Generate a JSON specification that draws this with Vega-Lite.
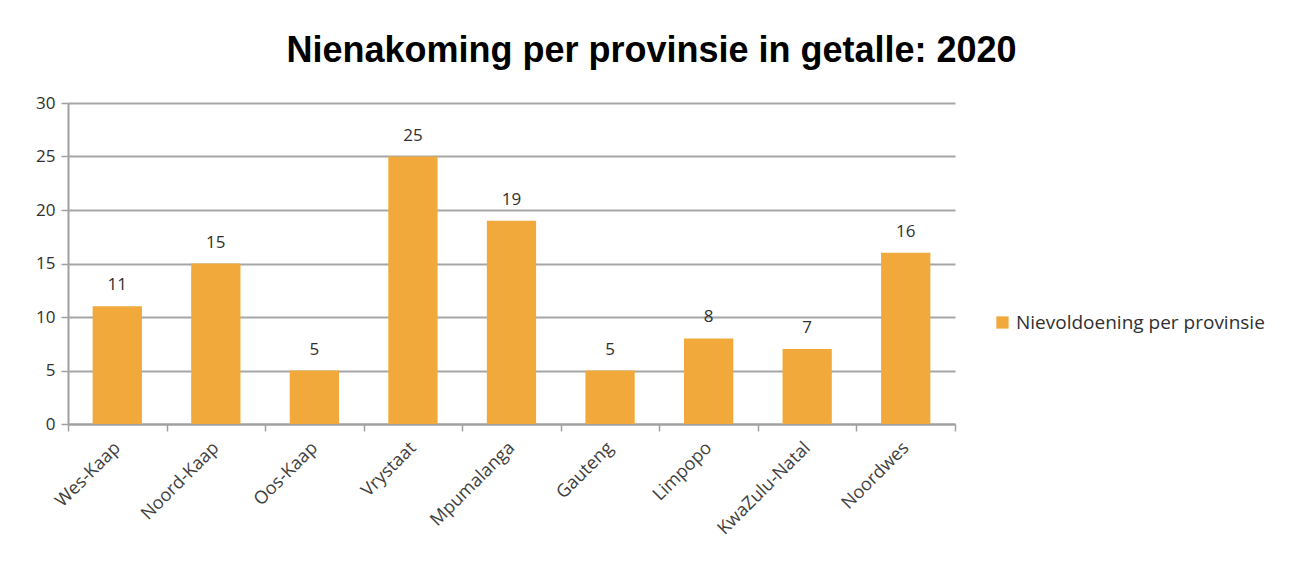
{
  "$schema": "https://vega.github.io/schema/vega-lite/v6.json",
  "autosize": {"type": "none"},
  "padding": {"left": 68, "top": 103, "right": 338, "bottom": 137},
  "width": 887,
  "height": 321,
  "background": "white",
  "title": {
    "text": "Nienakoming per provinsie in getalle: 2020",
    "anchor": "middle",
    "dx": 140,
    "offset": 24,
    "font": "Liberation Sans",
    "fontSize": 36,
    "fontWeight": "bold",
    "color": "#000000"
  },
  "data": {
    "values": [
      {"provinsie": "Wes-Kaap", "getal": 11, "reeks": "Nievoldoening per provinsie"},
      {"provinsie": "Noord-Kaap", "getal": 15, "reeks": "Nievoldoening per provinsie"},
      {"provinsie": "Oos-Kaap", "getal": 5, "reeks": "Nievoldoening per provinsie"},
      {"provinsie": "Vrystaat", "getal": 25, "reeks": "Nievoldoening per provinsie"},
      {"provinsie": "Mpumalanga", "getal": 19, "reeks": "Nievoldoening per provinsie"},
      {"provinsie": "Gauteng", "getal": 5, "reeks": "Nievoldoening per provinsie"},
      {"provinsie": "Limpopo", "getal": 8, "reeks": "Nievoldoening per provinsie"},
      {"provinsie": "KwaZulu-Natal", "getal": 7, "reeks": "Nievoldoening per provinsie"},
      {"provinsie": "Noordwes", "getal": 16, "reeks": "Nievoldoening per provinsie"}
    ]
  },
  "encoding": {
    "x": {
      "field": "provinsie",
      "type": "nominal",
      "sort": null,
      "scale": {"paddingInner": 0, "paddingOuter": 0},
      "axis": {
        "title": null,
        "labelAngle": -45,
        "labelAlign": "right",
        "labelBaseline": "middle",
        "labelFont": "Open Sans",
        "labelFontSize": 18,
        "labelColor": "#404040",
        "labelPadding": 14,
        "tickBand": "extent",
        "tickColor": "#A0A0A0",
        "tickSize": 7,
        "tickWidth": 1.5,
        "domainColor": "#A0A0A0",
        "domainWidth": 2,
        "grid": false
      }
    },
    "y": {
      "field": "getal",
      "type": "quantitative",
      "scale": {"domain": [0, 30]},
      "axis": {
        "title": null,
        "values": [0, 5, 10, 15, 20, 25, 30],
        "labelFont": "Open Sans",
        "labelFontSize": 17,
        "labelColor": "#303030",
        "labelPadding": 6,
        "tickColor": "#A0A0A0",
        "tickSize": 7,
        "tickWidth": 1.5,
        "domainColor": "#A0A0A0",
        "domainWidth": 2,
        "grid": true,
        "gridColor": "#A6A6A6",
        "gridWidth": 2
      }
    }
  },
  "layer": [
    {
      "mark": {"type": "bar", "color": "#F2A93B", "width": {"band": 0.5}},
      "encoding": {
        "color": {
          "field": "reeks",
          "type": "nominal",
          "scale": {"range": ["#F2A93B"]},
          "legend": {
            "title": null,
            "orient": "none",
            "legendX": 925,
            "legendY": 210,
            "symbolType": "square",
            "symbolSize": 150,
            "symbolStrokeWidth": 0,
            "labelFont": "Open Sans",
            "labelFontSize": 19,
            "labelLimit": 0,
            "labelColor": "#303030",
            "labelOffset": 4
          }
        }
      }
    },
    {
      "mark": {"type": "text", "dy": -12, "font": "Open Sans", "fontSize": 17, "color": "#303030", "baseline": "bottom"},
      "encoding": {"text": {"field": "getal", "type": "quantitative"}}
    }
  ],
  "config": {"view": {"stroke": null}}
}
